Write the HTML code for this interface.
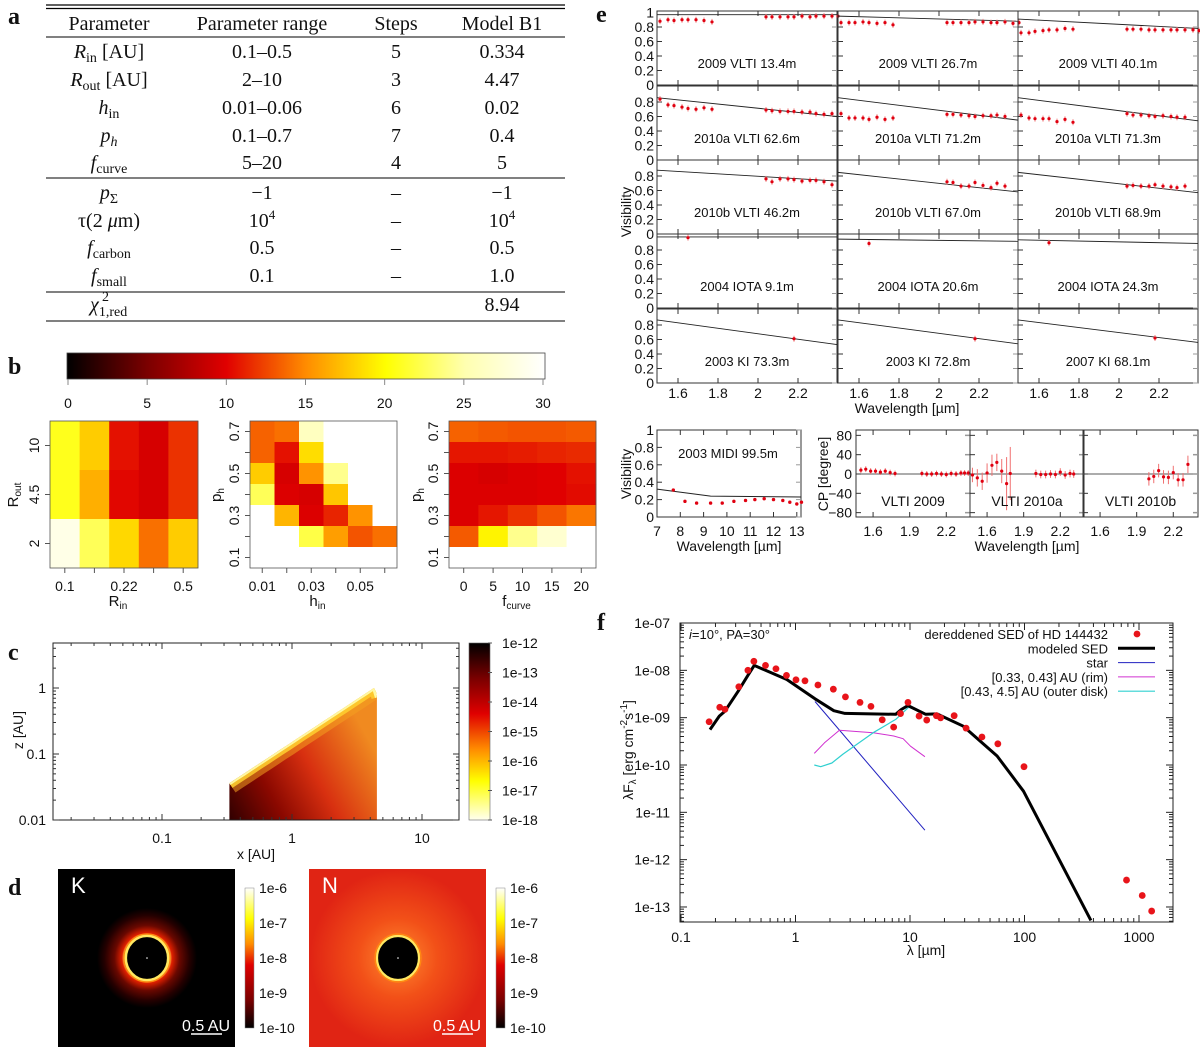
<!DOCTYPE html>
<html><head><meta charset="utf-8">
<style>
body{margin:0;background:#fff}
svg{display:block}
text{font-family:"Liberation Sans","DejaVu Sans",sans-serif;fill:#111}
.serif{font-family:"Liberation Serif",serif}
</style></head>
<body>
<svg id="fig" width="1200" height="1048" viewBox="0 0 1200 1048" xmlns="http://www.w3.org/2000/svg">
<defs>
<linearGradient id="cbB" x1="0" y1="0" x2="1" y2="0">
<stop offset="0" stop-color="#000"/><stop offset="0.167" stop-color="#7a0000"/><stop offset="0.333" stop-color="#e00000"/><stop offset="0.5" stop-color="#ff8c00"/><stop offset="0.667" stop-color="#ffff00"/><stop offset="0.833" stop-color="#ffffb0"/><stop offset="1" stop-color="#fff"/>
</linearGradient>
<linearGradient id="cbV" x1="0" y1="0" x2="0" y2="1">
<stop offset="0" stop-color="#000"/><stop offset="0.2" stop-color="#7a0000"/><stop offset="0.4" stop-color="#e00000"/><stop offset="0.6" stop-color="#ff8c00"/><stop offset="0.78" stop-color="#ffff00"/><stop offset="1" stop-color="#fffff0"/>
</linearGradient>
<linearGradient id="cbD" x1="0" y1="1" x2="0" y2="0">
<stop offset="0" stop-color="#000"/><stop offset="0.2" stop-color="#7a0000"/><stop offset="0.45" stop-color="#e00000"/><stop offset="0.6" stop-color="#ff8c00"/><stop offset="0.78" stop-color="#ffff00"/><stop offset="1" stop-color="#fff"/>
</linearGradient>
<linearGradient id="disk" x1="0" y1="1" x2="1" y2="0.5">
<stop offset="0" stop-color="#300000"/><stop offset="0.3" stop-color="#8a0800"/><stop offset="0.6" stop-color="#d83010"/><stop offset="1" stop-color="#f08a20"/>
</linearGradient>
<radialGradient id="kglow" cx="0.5" cy="0.5" r="0.5">
<stop offset="0.45" stop-color="#ffee60"/><stop offset="0.5" stop-color="#e02000"/><stop offset="0.65" stop-color="#6a0800"/><stop offset="0.85" stop-color="#250000"/><stop offset="1" stop-color="#000"/>
</radialGradient>
<radialGradient id="nglow" cx="0.5" cy="0.5" r="0.5">
<stop offset="0" stop-color="#ff8a30"/><stop offset="0.45" stop-color="#f25018"/><stop offset="1" stop-color="#e02414"/>
</radialGradient>
<clipPath id="clipF"><rect x="680" y="623" width="493" height="299"/></clipPath>
<clipPath id="clipDisk"><polygon id="diskClipPoly" points="0,0"/></clipPath>
</defs>

<!-- Panel a: table -->
<g class="serif" font-size="20">
<text class="serif" x="8" y="24" font-weight="bold" font-size="24">a</text>
<line x1="46" y1="5" x2="565" y2="5" stroke="#000" stroke-width="1.2"/>
<line x1="46" y1="8.5" x2="565" y2="8.5" stroke="#000" stroke-width="1.2"/>
<text class="serif" x="109" y="30" text-anchor="middle">Parameter</text>
<text class="serif" x="262" y="30" text-anchor="middle">Parameter range</text>
<text class="serif" x="396" y="30" text-anchor="middle">Steps</text>
<text class="serif" x="502" y="30" text-anchor="middle">Model B1</text>
<line x1="46" y1="37" x2="565" y2="37" stroke="#000" stroke-width="1"/>
<text class="serif" x="109" y="58" text-anchor="middle"><tspan font-style="italic">R</tspan><tspan font-size="14" dy="4">in</tspan><tspan dy="-4"> [AU]</tspan></text>
<text class="serif" x="262" y="58" text-anchor="middle">0.1–0.5</text><text class="serif" x="396" y="58" text-anchor="middle">5</text><text class="serif" x="502" y="58" text-anchor="middle">0.334</text>
<text class="serif" x="109" y="86" text-anchor="middle"><tspan font-style="italic">R</tspan><tspan font-size="14" dy="4">out</tspan><tspan dy="-4"> [AU]</tspan></text>
<text class="serif" x="262" y="86" text-anchor="middle">2–10</text><text class="serif" x="396" y="86" text-anchor="middle">3</text><text class="serif" x="502" y="86" text-anchor="middle">4.47</text>
<text class="serif" x="109" y="114" text-anchor="middle"><tspan font-style="italic">h</tspan><tspan font-size="14" dy="4">in</tspan></text>
<text class="serif" x="262" y="114" text-anchor="middle">0.01–0.06</text><text class="serif" x="396" y="114" text-anchor="middle">6</text><text class="serif" x="502" y="114" text-anchor="middle">0.02</text>
<text class="serif" x="109" y="142" text-anchor="middle"><tspan font-style="italic">p</tspan><tspan font-size="14" dy="4" font-style="italic">h</tspan></text>
<text class="serif" x="262" y="142" text-anchor="middle">0.1–0.7</text><text class="serif" x="396" y="142" text-anchor="middle">7</text><text class="serif" x="502" y="142" text-anchor="middle">0.4</text>
<text class="serif" x="109" y="169" text-anchor="middle"><tspan font-style="italic">f</tspan><tspan font-size="14" dy="4">curve</tspan></text>
<text class="serif" x="262" y="169" text-anchor="middle">5–20</text><text class="serif" x="396" y="169" text-anchor="middle">4</text><text class="serif" x="502" y="169" text-anchor="middle">5</text>
<line x1="46" y1="178" x2="565" y2="178" stroke="#000" stroke-width="1"/>
<text class="serif" x="109" y="199" text-anchor="middle"><tspan font-style="italic">p</tspan><tspan font-size="14" dy="4">Σ</tspan></text>
<text class="serif" x="262" y="199" text-anchor="middle">−1</text><text class="serif" x="396" y="199" text-anchor="middle">–</text><text class="serif" x="502" y="199" text-anchor="middle">−1</text>
<text class="serif" x="109" y="227" text-anchor="middle">τ(2 <tspan font-style="italic">μ</tspan>m)</text>
<text class="serif" x="262" y="227" text-anchor="middle">10<tspan font-size="13" dy="-8">4</tspan></text><text class="serif" x="396" y="227" text-anchor="middle">–</text><text class="serif" x="502" y="227" text-anchor="middle">10<tspan font-size="13" dy="-8">4</tspan></text>
<text class="serif" x="109" y="254" text-anchor="middle"><tspan font-style="italic">f</tspan><tspan font-size="14" dy="4">carbon</tspan></text>
<text class="serif" x="262" y="254" text-anchor="middle">0.5</text><text class="serif" x="396" y="254" text-anchor="middle">–</text><text class="serif" x="502" y="254" text-anchor="middle">0.5</text>
<text class="serif" x="109" y="282" text-anchor="middle"><tspan font-style="italic">f</tspan><tspan font-size="14" dy="4">small</tspan></text>
<text class="serif" x="262" y="282" text-anchor="middle">0.1</text><text class="serif" x="396" y="282" text-anchor="middle">–</text><text class="serif" x="502" y="282" text-anchor="middle">1.0</text>
<line x1="46" y1="292" x2="565" y2="292" stroke="#000" stroke-width="1"/>
<text class="serif" x="90" y="311"><tspan font-style="italic">χ</tspan><tspan font-size="14" dy="5">1,red</tspan></text>
<text class="serif" x="102" y="301" font-size="14">2</text>
<text class="serif" x="502" y="311" text-anchor="middle">8.94</text>
<line x1="46" y1="321" x2="565" y2="321" stroke="#000" stroke-width="1"/>
</g>

<text class="serif" x="8" y="374" font-weight="bold" font-size="24">b</text>
<text class="serif" x="8" y="660" font-weight="bold" font-size="24">c</text>
<text class="serif" x="8" y="895" font-weight="bold" font-size="24">d</text>
<text class="serif" x="596" y="22" font-weight="bold" font-size="24">e</text>
<text class="serif" x="597" y="630" font-weight="bold" font-size="24">f</text>
<g id="dyn"></g>
</svg>

<script>
// ---------- Panel b data (reduced chi^2 values; null = not computed) ----------
const cbTicks = [0, 5, 10, 15, 20, 25, 30];
const rinLabels = ['0.1', '', '0.22', '', '0.5'];
const routLabels = ['10', '4.5', '2'];
const chiRinRout = [
  [20.8, 17.8, 10.6, 9.5, 11.8],
  [20.8, 16.5, 10.2, 9.5, 11.8],
  [28.5, 22.5, 18.3, 14.0, 17.8]
];
const hinLabels = ['0.01', '', '0.03', '', '0.05', ''];
const phLabels = ['0.7', '', '0.5', '', '0.3', '', '0.1'];
const chiHinPh = [
  [13.5, 14.0, 26.0, null, null, null],
  [13.5, 10.6, 18.5, null, null, null],
  [17.8, 9.5, 15.3, 24.0, null, null],
  [22.5, 9.8, 9.5, 17.5, null, null],
  [null, 16.8, 9.8, 11.3, 15.3, null],
  [null, null, 22.0, 15.8, 13.0, 14.0],
  [null, null, null, null, null, null]
];
const fcurveLabels = ['0', '5', '10', '15', '20'];
const chiFcurvePh = [
  [13.5, 13.2, 13.0, 13.0, 13.2],
  [10.8, 10.8, 11.0, 11.3, 11.5],
  [9.8, 9.5, 9.8, 10.0, 10.6],
  [9.8, 9.8, 9.8, 10.0, 10.4],
  [9.8, 10.8, 11.8, 13.0, 14.2],
  [13.2, 19.5, 24.0, 27.0, null],
  [null, null, null, null, null]
];
// ---------- Panel c ----------
const cXTicks = [0.1, 1, 10];
const cYTicks = [0.01, 0.1, 1];
const cBarLabels = ['1e-12', '1e-13', '1e-14', '1e-15', '1e-16', '1e-17', '1e-18'];
const diskRin = 0.33;
const diskRout = 4.5;
const diskZin = 0.036;
const diskZout = 1.0;
// ---------- Panel d ----------
const dBarLabels = ['1e-6', '1e-7', '1e-8', '1e-9', '1e-10'];
// ---------- Panel e data ----------
const eHW = [1.51, 1.55, 1.58, 1.62, 1.65, 1.69, 1.73, 1.77];
const eKW = [2.04, 2.07, 2.11, 2.15, 2.18, 2.22, 2.26, 2.29, 2.33, 2.37, 2.40];
const eLabels = [
  '2009 VLTI 13.4m', '2009 VLTI 26.7m', '2009 VLTI 40.1m',
  '2010a VLTI 62.6m', '2010a VLTI 71.2m', '2010a VLTI 71.3m',
  '2010b VLTI 46.2m', '2010b VLTI 67.0m', '2010b VLTI 68.9m',
  '2004 IOTA 9.1m', '2004 IOTA 20.6m', '2004 IOTA 24.3m',
  '2003 KI 73.3m', '2003 KI 72.8m', '2007 KI 68.1m'
];
const eVisH = [
  [0.88, 0.90, 0.89, 0.90, 0.90, 0.90, 0.89, 0.87],
  [0.86, 0.86, 0.86, 0.87, 0.86, 0.85, 0.86, 0.83],
  [0.72, 0.72, 0.74, 0.75, 0.76, 0.76, 0.78, 0.77],
  [0.84, 0.76, 0.75, 0.73, 0.71, 0.70, 0.72, 0.70],
  [0.64, 0.58, 0.58, 0.58, 0.56, 0.59, 0.56, 0.58],
  [0.62, 0.58, 0.57, 0.57, 0.57, 0.53, 0.56, 0.52],
  [], [], [], [], [], [], [], [], []
];
const eVisK = [
  [0.94, 0.94, 0.94, 0.94, 0.94, 0.95, 0.94, 0.95, 0.95, 0.95, 0.95],
  [0.86, 0.86, 0.86, 0.86, 0.87, 0.87, 0.86, 0.86, 0.87, 0.85, 0.86],
  [0.77, 0.77, 0.77, 0.76, 0.76, 0.76, 0.76, 0.76, 0.76, 0.76, 0.75],
  [0.69, 0.68, 0.67, 0.67, 0.67, 0.66, 0.66, 0.64, 0.63, 0.64],
  [0.63, 0.63, 0.62, 0.61, 0.60, 0.61, 0.61, 0.62, 0.60],
  [0.64, 0.62, 0.62, 0.61, 0.60, 0.61, 0.60, 0.59, 0.59],
  [0.76, 0.72, 0.76, 0.76, 0.75, 0.73, 0.74, 0.74, 0.72, 0.68],
  [0.72, 0.71, 0.66, 0.66, 0.71, 0.67, 0.64, 0.70, 0.66],
  [0.66, 0.67, 0.66, 0.66, 0.68, 0.66, 0.65, 0.64, 0.66],
  [], [], [], [], [], []
];
const eSingleW = [null, null, null, null, null, null, null, null, null, 1.65, 1.65, 1.65, 2.18, 2.18, 2.18];
const eSingleV = [null, null, null, null, null, null, null, null, null, 0.97, 0.89, 0.90, 0.61, 0.61, 0.62];
const eModelStart = [0.97, 0.95, 0.91, 0.86, 0.86, 0.86, 0.88, 0.85, 0.85, 0.98, 0.95, 0.94, 0.87, 0.87, 0.87];
const eModelEnd = [0.97, 0.88, 0.78, 0.60, 0.55, 0.54, 0.73, 0.58, 0.57, 0.98, 0.92, 0.89, 0.53, 0.54, 0.56];
const eXTicks = [1.6, 1.8, 2.0, 2.2];
const eYTicks = [0, 0.2, 0.4, 0.6, 0.8];
// MIDI
const midiW = [7.7, 8.2, 8.7, 9.3, 9.8, 10.3, 10.8, 11.2, 11.6, 12.0, 12.4, 12.7, 13.0, 13.2];
const midiV = [0.31, 0.18, 0.16, 0.16, 0.16, 0.18, 0.19, 0.20, 0.21, 0.20, 0.19, 0.17, 0.15, 0.17];
const midiModelW = [7.0, 9.3, 13.2];
const midiModelV = [0.32, 0.24, 0.23];
const midiXTicks = [7, 8, 9, 10, 11, 12, 13];
const midiYTicks = [0, 0.2, 0.4, 0.6, 0.8, 1];
// Closure phases
const cpLabels = ['VLTI 2009', 'VLTI 2010a', 'VLTI 2010b'];
const cpW = [
  [1.50, 1.54, 1.58, 1.62, 1.66, 1.70, 1.74, 1.78, 2.00, 2.04, 2.08, 2.12, 2.16, 2.20, 2.24, 2.28, 2.32, 2.35, 2.38],
  [1.48, 1.52, 1.56, 1.60, 1.64, 1.68, 1.72, 1.76, 1.79, 2.00, 2.04, 2.08, 2.12, 2.16, 2.20, 2.24, 2.28, 2.31],
  [2.00, 2.04, 2.08, 2.12, 2.16, 2.20, 2.24, 2.28, 2.32]
];
const cpV = [
  [8, 10, 6, 6, 4, 6, 3, 1, 1, 0, 0, 1, 0, -1, 1, 0, 2, 2, 2],
  [-2, -8, -15, 2, 18, 24, 6, -20, 1, 1, -1, -1, 0, -1, 4, -2, 1, 0],
  [-10, -5, 7, -6, -7, 3, -12, -12, 20]
];
const cpErr = [
  [6, 6, 6, 6, 6, 6, 6, 6, 6, 6, 6, 6, 6, 6, 6, 6, 6, 6, 6],
  [15, 18, 18, 20, 22, 18, 25, 55, 55, 8, 8, 8, 8, 8, 8, 8, 8, 8],
  [14, 14, 14, 14, 14, 14, 14, 14, 18]
];
const cpXTicks = [1.6, 1.9, 2.2];
const cpYTicks = [-80, -40, 0, 40, 80];
// ---------- Panel f data (SED) ----------
const sedW = [0.176, 0.218, 0.242, 0.32, 0.384, 0.433, 0.547, 0.675, 0.834, 1.01, 1.21, 1.57, 2.14, 2.73, 3.66, 4.56, 5.72, 7.2, 8.26, 9.6, 12.0, 14.0, 17.0, 18.5, 24.3, 30.9, 42.5, 58.5, 99, 778, 1067, 1290];
const sedF = [8.2e-10, 1.66e-9, 1.5e-9, 4.5e-9, 1.0e-8, 1.55e-8, 1.27e-8, 1.08e-8, 7.8e-9, 6.3e-9, 6.0e-9, 4.9e-9, 4.0e-9, 2.75e-9, 2.1e-9, 1.73e-9, 9.0e-10, 6.3e-10, 1.22e-9, 2.1e-9, 1.08e-9, 8.9e-10, 1.1e-9, 9.9e-10, 1.1e-9, 6.0e-10, 3.9e-10, 2.8e-10, 9.2e-11, 3.7e-13, 1.75e-13, 8.2e-14];
const modW = [0.179, 0.216, 0.242, 0.315, 0.38, 0.436, 0.84, 1.48, 2.16, 2.7, 7.5, 8.4, 9.6, 13.7, 17.2, 29.2, 57.6, 98, 380];
const modF = [5.6e-10, 1.08e-9, 1.37e-9, 3.6e-9, 7.5e-9, 1.27e-8, 6.4e-9, 2.5e-9, 1.4e-9, 1.23e-9, 1.18e-9, 1.49e-9, 1.8e-9, 1.18e-9, 1.2e-9, 6.6e-10, 1.55e-10, 2.8e-11, 5.2e-14];
const starW = [1.48, 13.5];
const starF = [2.2e-9, 4.2e-12];
const rimW = [1.46, 1.79, 2.42, 4.77, 7.2, 8.7, 10.1, 13.5];
const rimF = [1.76e-10, 2.95e-10, 5.4e-10, 4.8e-10, 4.1e-10, 3.6e-10, 2.5e-10, 1.5e-10];
const outW = [1.46, 1.66, 2.08, 2.6, 4.77, 7.5, 9.75, 12.7, 13.5];
const outF = [1.0e-10, 9.2e-11, 1.1e-10, 1.7e-10, 4.8e-10, 9.2e-10, 1.66e-9, 1.3e-9, 1.2e-9];
const fXTicks = [0.1, 1, 10, 100, 1000];
const fXTickLabels = ['0.1', '1', '10', '100', '1000'];
const fYTicks = [1e-7, 1e-8, 1e-9, 1e-10, 1e-11, 1e-12, 1e-13];
const fYTickLabels = ['1e-07', '1e-08', '1e-09', '1e-10', '1e-11', '1e-12', '1e-13'];

// ---------- helpers ----------
const NS = 'http://www.w3.org/2000/svg';
const root = document.getElementById('dyn');
function el(tag, attrs, parent) {
  const e = document.createElementNS(NS, tag);
  for (const k in attrs) e.setAttribute(k, attrs[k]);
  (parent || root).appendChild(e);
  return e;
}
function txt(s, attrs, parent) {
  const t = el('text', attrs, parent);
  t.textContent = s;
  return t;
}
function group(name, parent) {
  const g = el('g', {}, parent);
  
  
  return g;
}
const cmStops = [[0, [0, 0, 0]], [5, [122, 0, 0]], [10, [224, 0, 0]], [15, [255, 140, 0]], [20, [255, 255, 0]], [25, [255, 255, 176]], [30, [255, 255, 255]]];
function cmap(v) {
  if (v === null) return '#ffffff';
  v = Math.max(0, Math.min(30, v));
  for (let i = 0; i < cmStops.length - 1; i++) {
    const [a, ca] = cmStops[i], [b, cb] = cmStops[i + 1];
    if (v <= b) {
      const t = (v - a) / (b - a);
      const c = ca.map((x, j) => Math.round(x + (cb[j] - x) * t));
      return 'rgb(' + c.join(',') + ')';
    }
  }
  return '#fff';
}
const L10 = Math.log10;

// ---------- Panel b ----------
(function () {
  const g = group('panel-b-chi2-maps');
  const cb = el('rect', { x: 67, y: 353, width: 478, height: 26, fill: 'url(#cbB)', stroke: '#444', 'stroke-width': 0.8 }, g);
  
  
  const cbx = v => 68 + v / 30 * 475;
  cbTicks.forEach(v => {
    el('line', { x1: cbx(v), y1: 379, x2: cbx(v), y2: 385, stroke: '#888', 'stroke-width': 1 }, g);
    const t = txt(String(v), { x: cbx(v), y: 408, 'text-anchor': 'middle', 'font-size': 14 }, g);
    
    
  });
  function heat(name, x0, x1, y0, y1, grid, xl, yl, ylx, xtitle, xsub, ytitle, ysub, ytx) {
    const hg = group(name, g);
    const rows = grid.length, cols = grid[0].length;
    const cw = (x1 - x0) / cols, rh = (y1 - y0) / rows;
    grid.forEach((row, r) => row.forEach((v, c) => {
      const cell = el('rect', { x: x0 + c * cw, y: y0 + r * rh, width: cw + 0.3, height: rh + 0.3, fill: cmap(v) }, hg);
      
      
    }));
    el('rect', { x: x0, y: y0, width: x1 - x0, height: y1 - y0, fill: 'none', stroke: '#555', 'stroke-width': 0.8 }, hg);
    xl.forEach((s, c) => {
      const x = x0 + (c + 0.5) * cw;
      el('line', { x1: x, y1: y1, x2: x, y2: y1 + 5, stroke: '#555' }, hg);
      if (s) {
        const t = txt(s, { x: x, y: 591, 'text-anchor': 'middle', 'font-size': 14 }, hg);
        
        
      }
    });
    yl.forEach((s, r) => {
      const y = y0 + (r + 0.5) * rh;
      el('line', { x1: x0, y1: y, x2: x0 - 5, y2: y, stroke: '#555' }, hg);
      if (s) {
        const t = txt(s, { x: ylx, y: y, 'text-anchor': 'middle', 'font-size': 14, transform: 'rotate(-90 ' + ylx + ' ' + y + ')', dy: 5 }, hg);
        
        
      }
    });
    const xt = txt(xtitle, { x: (x0 + x1) / 2 - 6, y: 606, 'font-size': 15, 'text-anchor': 'middle' }, hg);
    const ts = el('tspan', { 'font-size': 10, dy: 3 }, xt); ts.textContent = xsub;
    
    
    const yt = txt(ytitle, { x: ytx, y: 500, 'font-size': 15, 'text-anchor': 'middle', transform: 'rotate(-90 ' + ytx + ' 495)' }, hg);
    const ts2 = el('tspan', { 'font-size': 10, dy: 3 }, yt); ts2.textContent = ysub;
    
    
  }
  heat('heatmap-rin-rout', 50, 198, 421, 568, chiRinRout, rinLabels, routLabels, 34, 'R', 'in', 'R', 'out', 13);
  heat('heatmap-hin-ph', 250, 397, 421, 568, chiHinPh, hinLabels, phLabels, 234, 'h', 'in', 'p', 'h', 216);
  heat('heatmap-fcurve-ph', 449, 596, 421, 568, chiFcurvePh, fcurveLabels, phLabels, 433, 'f', 'curve', 'p', 'h', 416);
})();

// ---------- Panel c ----------
(function () {
  const g = group('panel-c-density-map');
  const X0 = 53, X1 = 459, Y0 = 643, Y1 = 820;
  const xs = v => 292 + L10(v) * 130;
  const ys = v => 820 - (L10(v) + 2) * 66;
  const surf = [];
  const n = 20;
  for (let i = 0; i <= n; i++) {
    const lx = L10(diskRin) + (L10(diskRout * 0.95) - L10(diskRin)) * i / n;
    const lz = L10(diskZin) + (L10(diskZout) - L10(diskZin)) * i / n;
    surf.push([xs(Math.pow(10, lx)), ys(Math.pow(10, lz))]);
  }
  const pts = [[xs(diskRin), Y1]].concat(surf);
  pts.push([xs(diskRout * 0.95) + 2, ys(diskZout * 0.88)]);
  pts.push([xs(diskRout), ys(diskZout * 0.72)]);
  pts.push([xs(diskRout), Y1]);
  const ptStr = pts.map(p => p.map(v => v.toFixed(1)).join(',')).join(' ');
  document.getElementById('diskClipPoly').setAttribute('points', ptStr);
  const disk = el('polygon', { points: ptStr, fill: 'url(#disk)' }, g);
  
  
  const edge = el('g', { 'clip-path': 'url(#clipDisk)' }, g);
  const sStr = surf.map(p => p[0].toFixed(1) + ',' + p[1].toFixed(1)).join(' ') + ' ' + xs(diskRout).toFixed(1) + ',' + ys(diskZout * 0.72).toFixed(1);
  el('polyline', { points: sStr, fill: 'none', stroke: '#f4a020', 'stroke-width': 22, opacity: 0.55 }, edge);
  el('polyline', { points: sStr, fill: 'none', stroke: '#ffd030', 'stroke-width': 11, opacity: 0.85 }, edge);
  el('polyline', { points: sStr, fill: 'none', stroke: '#fff8a0', 'stroke-width': 4 }, edge);
  el('rect', { x: X0, y: Y0, width: X1 - X0, height: Y1 - Y0, fill: 'none', stroke: '#222', 'stroke-width': 1 }, g);
  for (let d = -2; d <= 1; d++) for (let m = 1; m < 10; m++) {
    const v = m * Math.pow(10, d), x = xs(v);
    if (x < X0 || x > X1) continue;
    const len = m === 1 ? 6 : 3;
    el('line', { x1: x, y1: Y1, x2: x, y2: Y1 - len, stroke: '#333' }, g);
    el('line', { x1: x, y1: Y0, x2: x, y2: Y0 + len, stroke: '#333' }, g);
  }
  for (let d = -2; d <= 0; d++) for (let m = 1; m < 10; m++) {
    const v = m * Math.pow(10, d), y = ys(v);
    if (y < Y0 || y > Y1) continue;
    const len = m === 1 ? 6 : 3;
    el('line', { x1: X0, y1: y, x2: X0 + len, y2: y, stroke: '#333' }, g);
    el('line', { x1: X1, y1: y, x2: X1 - len, y2: y, stroke: '#333' }, g);
  }
  cXTicks.forEach(v => {
    const t = txt(String(v), { x: xs(v), y: 843, 'text-anchor': 'middle', 'font-size': 14 }, g);
    
    
  });
  cYTicks.forEach(v => {
    const t = txt(String(v), { x: 46, y: ys(v) + 5, 'text-anchor': 'end', 'font-size': 14 }, g);
    
    
  });
  const xt = txt('x [AU]', { x: 256, y: 859, 'text-anchor': 'middle', 'font-size': 14 }, g);
  
  
  const yt = txt('z [AU]', { x: 18, y: 735, 'text-anchor': 'middle', 'font-size': 14, transform: 'rotate(-90 18 730)' }, g);
  
  
  const cb = el('rect', { x: 469, y: 643, width: 21, height: 177, fill: 'url(#cbV)', stroke: '#666', 'stroke-width': 0.6 }, g);
  
  
  cBarLabels.forEach((s, i) => {
    const y = 643 + i * 177 / 6;
    el('line', { x1: 488, y1: y, x2: 492, y2: y, stroke: '#555' }, g);
    const t = txt(s, { x: 502, y: y + 5, 'font-size': 14 }, g);
    
    
  });
})();

// ---------- Panel d ----------
(function () {
  const g = group('panel-d-images');
  function img(name, x0, band, bgFill, glowR, barX) {
    const ig = group(name, g);
    el('rect', { x: x0, y: 869, width: 177, height: 178, fill: bgFill }, ig);
    const cx = x0 + 89, cy = 958;
    el('ellipse', { cx: cx, cy: cy, rx: glowR, ry: glowR, fill: band === 'K' ? 'url(#kglow)' : 'url(#nglow)' }, ig);
    el('ellipse', { cx: cx, cy: cy, rx: 21, ry: 22, fill: '#000', stroke: '#ffe860', 'stroke-width': 2.2 }, ig);
    el('ellipse', { cx: cx, cy: cy, rx: 23, ry: 24, fill: 'none', stroke: '#ff8a10', 'stroke-width': 1.2 }, ig);
    el('circle', { cx: cx, cy: cy, r: 0.8, fill: '#fff' }, ig);
    const lt = txt(band, { x: x0 + 13, y: 893, 'font-size': 22, style: 'fill:#fff' }, ig);
    
    
    const sb = txt('0.5 AU', { x: x0 + 124, y: 1031, 'font-size': 16, style: 'fill:#fff' }, ig);
    
    
    el('line', { x1: x0 + 133, y1: 1034, x2: x0 + 164, y2: 1034, stroke: '#fff', 'stroke-width': 1.5 }, ig);
    const cb = el('rect', { x: barX, y: 888, width: 9, height: 140, fill: 'url(#cbD)', stroke: '#888', 'stroke-width': 0.5 }, ig);
    
    
    dBarLabels.forEach((s, i) => {
      const y = 888 + i * 35;
      const t = txt(s, { x: barX + 14, y: y + 5, 'font-size': 14 }, ig);
      
      
    });
  }
  img('k-band-image', 58, 'K', '#000', 50, 245);
  img('n-band-image', 309, 'N', '#e02414', 88, 496);
})();

// ---------- Panel e ----------
(function () {
  const g = group('panel-e-visibilities');
  const colX = [657, 838, 1018];
  const rowB = [85, 160, 234, 308, 383];
  const U = 72.5;
  for (let p = 0; p < 15; p++) {
    const r = Math.floor(p / 3), c = p % 3;
    const x0 = colX[c], yb = rowB[r];
    const sg = group('visibility-panel', g);
    const xs = l => x0 + (l - 1.495) * 200;
    const ys = v => yb - v * U;
    el('rect', { x: x0, y: yb - 74, width: 180, height: 74, fill: 'none', stroke: '#333', 'stroke-width': 1 }, sg);
    eXTicks.forEach(l => {
      el('line', { x1: xs(l), y1: yb, x2: xs(l), y2: yb - 5, stroke: '#333' }, sg);
      el('line', { x1: xs(l), y1: yb - 74, x2: xs(l), y2: yb - 69, stroke: '#333' }, sg);
      if (r === 4) {
        const t = txt(l === 2 ? '2' : String(l), { x: xs(l), y: 398, 'text-anchor': 'middle', 'font-size': 14 }, sg);
        
        
      }
    });
    eYTicks.forEach(v => {
      el('line', { x1: x0, y1: ys(v), x2: x0 + 5, y2: ys(v), stroke: '#333' }, sg);
      el('line', { x1: x0 + 180, y1: ys(v), x2: x0 + 175, y2: ys(v), stroke: '#999' }, sg);
      if (c === 0) {
        const t = txt(String(v), { x: 654, y: ys(v) + 5, 'text-anchor': 'end', 'font-size': 14 }, sg);
        
        
      }
    });
    if (c === 0 && r === 0) {
      const t = txt('1', { x: 654, y: ys(1) + 5, 'text-anchor': 'end', 'font-size': 14 }, sg);
      
      
    }
    const ml = el('line', { x1: xs(1.495), y1: ys(eModelStart[p]), x2: xs(2.395), y2: ys(eModelEnd[p]), stroke: '#222', 'stroke-width': 0.9 }, sg);
    
    
    function pt(l, v) {
      el('line', { x1: xs(l), y1: ys(v) - 3, x2: xs(l), y2: ys(v) + 3, stroke: '#f08080', 'stroke-width': 1 }, sg);
      const d = el('circle', { cx: xs(l), cy: ys(v), r: 1.6, fill: '#e00010' }, sg);
      
      
    }
    eVisH[p].forEach((v, i) => pt(eHW[i], v));
    eVisK[p].forEach((v, i) => pt(eKW[i], v));
    if (eSingleW[p] !== null) pt(eSingleW[p], eSingleV[p]);
    const lab = txt(eLabels[p], { x: x0 + 90, y: yb - 17, 'text-anchor': 'middle', 'font-size': 13 }, sg);
    
    
  }
  const xt = txt('Wavelength [µm]', { x: 907, y: 413, 'text-anchor': 'middle', 'font-size': 14 }, g);
  
  
  const yt = txt('Visibility', { x: 627, y: 216, 'text-anchor': 'middle', 'font-size': 14, transform: 'rotate(-90 627 212)' }, g);
  
  

  // MIDI
  const mg = group('midi-visibility-panel', g);
  const mx = l => 657 + (l - 7) * 23.3;
  const my = v => 517 - v * 87;
  el('rect', { x: 657, y: 430, width: 144, height: 87, fill: 'none', stroke: '#333' }, mg);
  midiXTicks.forEach(l => {
    el('line', { x1: mx(l), y1: 517, x2: mx(l), y2: 512, stroke: '#333' }, mg);
    el('line', { x1: mx(l), y1: 430, x2: mx(l), y2: 435, stroke: '#333' }, mg);
    const t = txt(String(l), { x: mx(l), y: 536, 'text-anchor': 'middle', 'font-size': 14 }, mg);
    
    
  });
  midiYTicks.forEach(v => {
    el('line', { x1: 657, y1: my(v), x2: 662, y2: my(v), stroke: '#333' }, mg);
    el('line', { x1: 801, y1: my(v), x2: 796, y2: my(v), stroke: '#999' }, mg);
    const t = txt(String(v), { x: 654, y: my(v) + 5, 'text-anchor': 'end', 'font-size': 14 }, mg);
    
    
  });
  const mm = el('polyline', { points: midiModelW.map((l, i) => mx(l) + ',' + my(midiModelV[i])).join(' '), fill: 'none', stroke: '#222', 'stroke-width': 1 }, mg);
  
  
  midiW.forEach((l, i) => {
    const d = el('circle', { cx: mx(l), cy: my(midiV[i]), r: 1.7, fill: '#e00010' }, mg);
    
    
  });
  const ml = txt('2003 MIDI 99.5m', { x: 728, y: 458, 'text-anchor': 'middle', 'font-size': 13 }, mg);
  
  
  const mxl = txt('Wavelength [µm]', { x: 729, y: 551, 'text-anchor': 'middle', 'font-size': 14 }, mg);
  
  
  const myl = txt('Visibility', { x: 627, y: 478, 'text-anchor': 'middle', 'font-size': 14, transform: 'rotate(-90 627 474)' }, mg);
  
  

  // CP
  const cg = group('closure-phase-panel', g);
  const cpX0 = [856, 970, 1083];
  const cy = v => 474 - v * 0.483;
  cpX0.forEach((x0, k) => {
    const w = k === 2 ? 115 : 114;
    const cx = l => x0 + (l - 1.46) * 122;
    el('rect', { x: x0, y: 430, width: w, height: 87, fill: 'none', stroke: '#333' }, cg);
    el('line', { x1: x0, y1: cy(0), x2: x0 + w, y2: cy(0), stroke: '#222', 'stroke-width': 0.8 }, cg);
    cpXTicks.forEach(l => {
      el('line', { x1: cx(l), y1: 517, x2: cx(l), y2: 512, stroke: '#333' }, cg);
      el('line', { x1: cx(l), y1: 430, x2: cx(l), y2: 435, stroke: '#333' }, cg);
      const t = txt(String(l), { x: cx(l), y: 536, 'text-anchor': 'middle', 'font-size': 14 }, cg);
      
      
    });
    cpYTicks.forEach(v => {
      el('line', { x1: x0, y1: cy(v), x2: x0 + 5, y2: cy(v), stroke: '#333' }, cg);
      el('line', { x1: x0 + w, y1: cy(v), x2: x0 + w - 5, y2: cy(v), stroke: '#999', 'stroke-width': 1.5 }, cg);
    });
    cpW[k].forEach((l, i) => {
      el('line', { x1: cx(l), y1: cy(cpV[k][i] - cpErr[k][i]), x2: cx(l), y2: cy(cpV[k][i] + cpErr[k][i]), stroke: '#f07070', 'stroke-width': 1 }, cg);
      const d = el('circle', { cx: cx(l), cy: cy(cpV[k][i]), r: 1.6, fill: '#e00010' }, cg);
      
      
    });
    const lt = txt(cpLabels[k], { x: x0 + w / 2, y: 506, 'text-anchor': 'middle', 'font-size': 14 }, cg);
    
    
  });
  cpYTicks.forEach(v => {
    const t = txt(v < 0 ? '−' + (-v) : String(v), { x: 852, y: cy(v) + 5, 'text-anchor': 'end', 'font-size': 14 }, cg);
    
    
  });
  const cxl = txt('Wavelength [µm]', { x: 1027, y: 551, 'text-anchor': 'middle', 'font-size': 14 }, cg);
  
  
  const cyl = txt('CP [degree]', { x: 824, y: 478, 'text-anchor': 'middle', 'font-size': 14, transform: 'rotate(-90 824 474)' }, cg);
  
  
})();

// ---------- Panel f ----------
(function () {
  const g = group('panel-f-sed');
  const X0 = 680, X1 = 1173, Y0 = 623, Y1 = 922;
  const xs = l => 681 + (L10(l) + 1) * 114.5;
  const ys = f => 623 + (-7 - L10(f)) * 47.33;
  el('rect', { x: X0, y: Y0, width: X1 - X0, height: Y1 - Y0, fill: 'none', stroke: '#222' }, g);
  for (let d = -1; d <= 3; d++) for (let m = 1; m < 10; m++) {
    const x = xs(m * Math.pow(10, d));
    if (x < X0 || x > X1) continue;
    const len = m === 1 ? 7 : 4;
    el('line', { x1: x, y1: Y1, x2: x, y2: Y1 - len, stroke: '#222' }, g);
    el('line', { x1: x, y1: Y0, x2: x, y2: Y0 + len, stroke: '#222' }, g);
  }
  for (let d = -14; d <= -7; d++) for (let m = 1; m < 10; m++) {
    const y = ys(m * Math.pow(10, d));
    if (y < Y0 || y > Y1) continue;
    const len = m === 1 ? 7 : 4;
    el('line', { x1: X0, y1: y, x2: X0 + len, y2: y, stroke: '#222' }, g);
    el('line', { x1: X1, y1: y, x2: X1 - len, y2: y, stroke: '#222' }, g);
  }
  fXTicks.forEach((v, i) => {
    const t = txt(fXTickLabels[i], { x: xs(v), y: 942, 'text-anchor': 'middle', 'font-size': 14 }, g);
    
    
  });
  fYTicks.forEach((v, i) => {
    const t = txt(fYTickLabels[i], { x: 670, y: ys(v) + 5, 'text-anchor': 'end', 'font-size': 14 }, g);
    
    
  });
  const xt = txt('λ [µm]', { x: 926, y: 955, 'text-anchor': 'middle', 'font-size': 14 }, g);
  
  
  const yt = txt('', { x: 628, y: 755, 'text-anchor': 'middle', 'font-size': 14, transform: 'rotate(-90 628 750)' }, g);
  yt.innerHTML = 'λF<tspan font-size="10" dy="3">λ</tspan><tspan dy="-3"> [erg cm</tspan><tspan font-size="10" dy="-6">-2</tspan><tspan dy="6">s</tspan><tspan font-size="10" dy="-6">-1</tspan><tspan dy="6">]</tspan>';
  
  
  const cl = el('g', { 'clip-path': 'url(#clipF)' }, g);
  function line(name, W, F, color, width) {
    const p = el('polyline', { points: W.map((l, i) => xs(l).toFixed(1) + ',' + ys(F[i]).toFixed(1)).join(' '), fill: 'none', stroke: color, 'stroke-width': width, 'stroke-linejoin': 'round' }, cl);
    
    
  }
  line('star-line', starW, starF, '#2020c0', 1);
  line('rim-line', rimW, rimF, '#d030d0', 1);
  line('outer-disk-line', outW, outF, '#30d0d0', 1.2);
  line('modeled-sed-line', modW, modF, '#000', 3);
  sedW.forEach((l, i) => {
    const d = el('circle', { cx: xs(l), cy: ys(sedF[i]), r: 3.4, fill: '#e8141a' }, cl);
    
    
  });
  const info = txt('', { x: 689, y: 639, 'font-size': 13 }, g);
  info.innerHTML = '<tspan font-style="italic">i</tspan>=10°, PA=30°';
  
  
  const lg = group('legend', g);
  const legText = ['dereddened SED of HD 144432', 'modeled SED', 'star', '[0.33, 0.43] AU (rim)', '[0.43, 4.5] AU (outer disk)'];
  const legCol = [null, '#000', '#2020c0', '#d030d0', '#30d0d0'];
  const legW = [0, 3, 1, 1, 1.2];
  legText.forEach((s, i) => {
    const y = 634 + i * 14.3;
    const t = txt(s, { x: 1108, y: y + 5, 'text-anchor': 'end', 'font-size': 13 }, lg);
    
    
    if (i === 0) {
      el('circle', { cx: 1137, cy: y, r: 3.4, fill: '#e8141a' }, lg);
    } else {
      el('line', { x1: 1118, y1: y, x2: 1155, y2: y, stroke: legCol[i], 'stroke-width': legW[i] }, lg);
    }
  });
})();
</script>
</body></html>
